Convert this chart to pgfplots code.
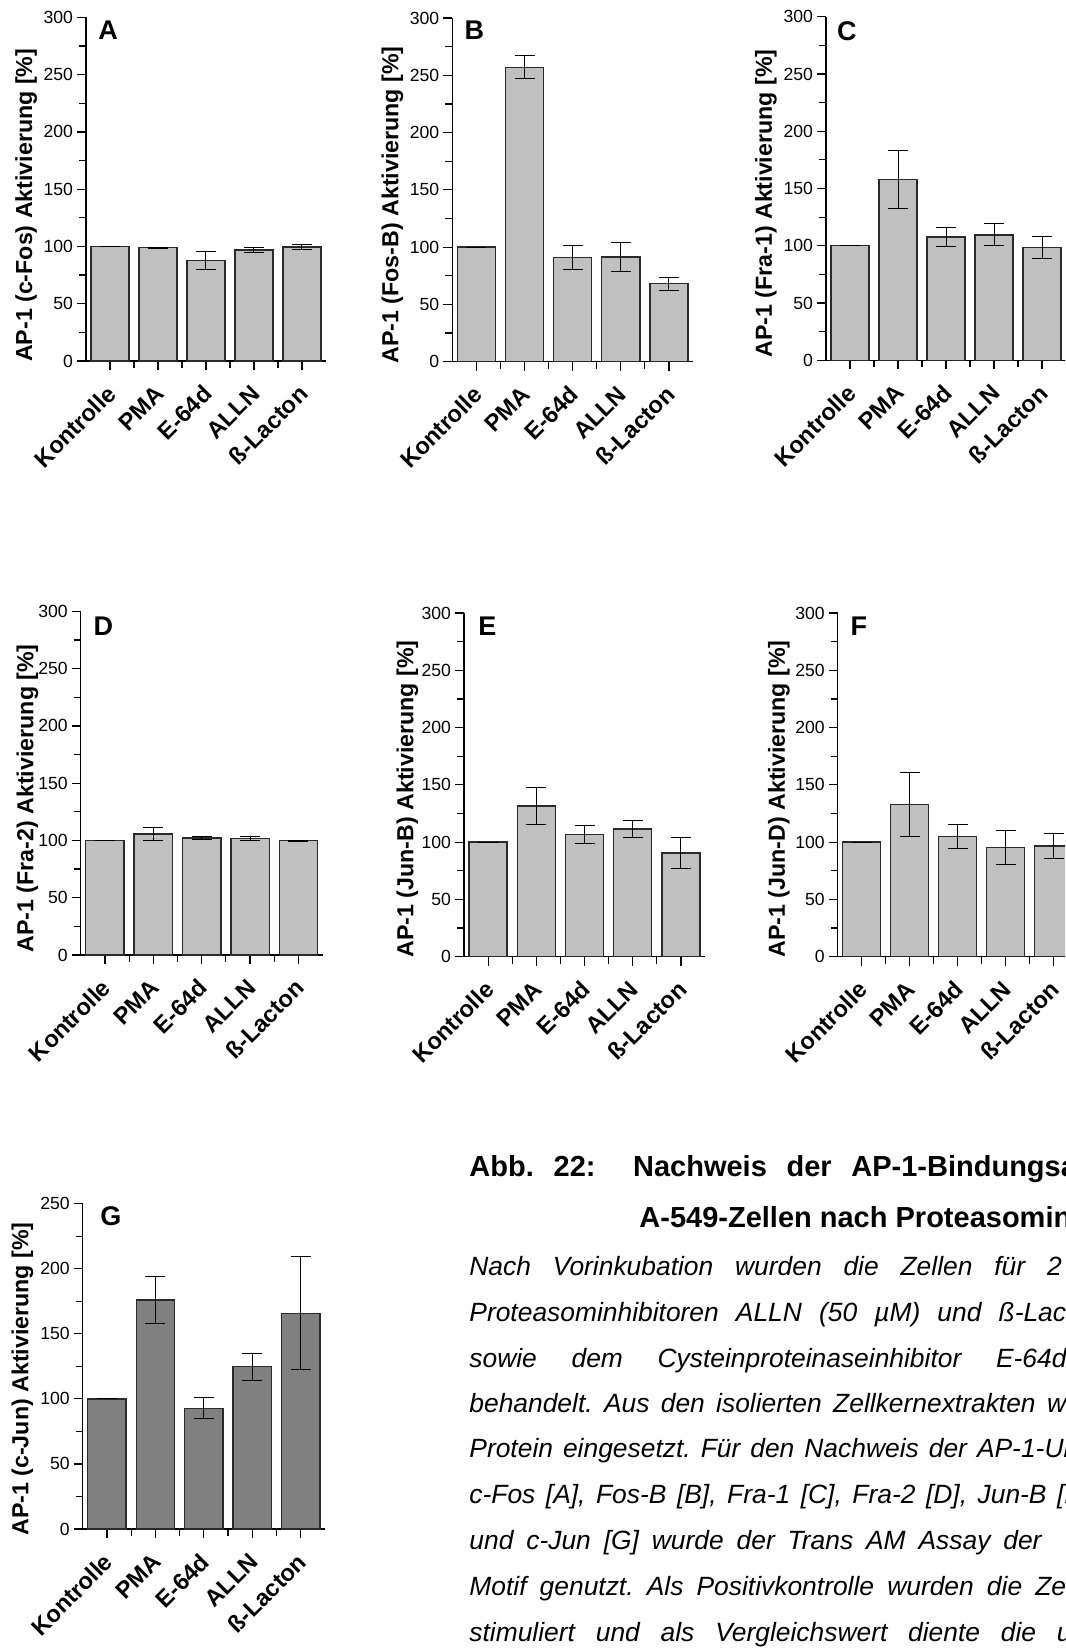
\documentclass[border=0pt]{standalone}
\usepackage{fontspec}
\setmainfont{Liberation Sans}
\usepackage{pgfplots}
\pgfplotsset{compat=1.18}
\definecolor{barlight}{HTML}{C0C0C0}
\definecolor{bardark}{HTML}{808080}
\definecolor{edgecol}{HTML}{2A2A2A}
\tikzset{letter/.style={anchor=base west, inner sep=0pt, font=\bfseries\fontsize{13.5}{16}\selectfont}}
\pgfplotsset{
  panel/.style={
    scale only axis, width=120pt, height=171.8pt,
    xmin=-0.5, xmax=4.5, ymin=0, ymax=300, enlargelimits=false,
    axis lines=left, axis line style={line width=0.75pt, -},
    xtick={0,1,2,3,4}, xticklabels={Kontrolle,PMA,E-64d,ALLN,ß-Lacton},
    minor x tick num=1,
    ytick={0,50,...,300}, minor y tick num=1,
    tick align=outside, major tick length=4.5pt, minor tick length=3.5pt,
    tick style={line width=0.6pt, black},
    /pgf/number format/assume math mode=true,
    yticklabel style={font=\fontsize{8.8}{10}\selectfont, xshift=1.5pt},
    xticklabel style={rotate=45, anchor=east, font=\bfseries\fontsize{11.8}{14}\selectfont, xshift=-3pt, yshift=-7.5pt},
    ylabel style={font=\bfseries\fontsize{11.6}{14}\selectfont, anchor=base},
    clip=false,
  },
  bars/.style={ybar, bar width=0.79, fill=#1, draw=edgecol, line width=0.7pt,
    error bars/.cd, y dir=both, y explicit,
    error bar style={black, line width=0.5pt},
    error mark options={rotate=90, black, mark size=5pt, line width=0.5pt}},
  bars/.default=barlight,
}
\pgfplotstableread{
x y e
0 100 0
1 99 0.4
2 87.5 8
3 97 2.5
4 99.5 1.8
}\tabA
\pgfplotstableread{
x y e
0 100 0
1 257 10
2 91 10.2
3 91.5 12.5
4 68 5.5
}\tabB
\pgfplotstableread{
x y e
0 100 0
1 158 25.5
2 107.5 8
3 109.5 9.5
4 98.5 9.3
}\tabC
\pgfplotstableread{
x y e
0 100 0
1 105.5 5.5
2 102.3 1.2
3 101.7 1.6
4 99.7 0.5
}\tabD
\pgfplotstableread{
x y e
0 100 0
1 131.5 15.9
2 106.8 8
3 111.5 7
4 90.5 13.2
}\tabE
\pgfplotstableread{
x y e
0 100 0
1 133 28
2 105 10.6
3 95.2 14.7
4 96.5 11
}\tabF
\pgfplotstableread{
x y e
0 100 0
1 176 18.2
2 92.7 8
3 124.7 10.2
4 165.7 43.5
}\tabG
\begin{document}
\begin{tikzpicture}
\useasboundingbox (0,0) rectangle (532.5pt,826pt);
\clip (0,0) rectangle (532.5pt,826pt);
\fill[white] (0,0) rectangle (532.5pt,826pt);

% A
\begin{axis}[panel, anchor=south west, at={(43pt,645.5pt)},
  ylabel={AP-1 (c-Fos) Aktivierung [\%]},
  ylabel style={at={(axis description cs:-0.224,0.453)}}]
\addplot[bars] table[x=x,y=y,y error=e] {\tabA};
\node[letter, xshift=6pt, yshift=-11.3pt] at (rel axis cs:0,1) {A};
\end{axis}
% B
\begin{axis}[panel, anchor=south west, at={(226.15pt,645.15pt)}, width=120.35pt,
  ylabel={AP-1 (Fos-B) Aktivierung [\%]},
  ylabel style={at={(axis description cs:-0.224,0.456)}}]
\addplot[bars] table[x=x,y=y,y error=e] {\tabB};
\node[letter, xshift=6pt, yshift=-10.5pt] at (rel axis cs:0,1) {B};
\end{axis}
% C
\begin{axis}[panel, anchor=south west, at={(413pt,645.85pt)},
  ylabel={AP-1 (Fra-1) Aktivierung [\%]},
  ylabel style={at={(axis description cs:-0.226,0.456)}}]
\addplot[bars] table[x=x,y=y,y error=e] {\tabC};
\node[letter, xshift=5.3pt, yshift=-12pt] at (rel axis cs:0,1) {C};
\end{axis}
% D
\begin{axis}[panel, anchor=south west, at={(40.35pt,348.5pt)}, width=121pt,
  ylabel={AP-1 (Fra-2) Aktivierung [\%]},
  ylabel style={at={(axis description cs:-0.196,0.456)}}]
\addplot[bars] table[x=x,y=y,y error=e] {\tabD};
\node[letter, xshift=6.3pt, yshift=-12.3pt] at (rel axis cs:0,1) {D};
\end{axis}
% E
\begin{axis}[panel, anchor=south west, at={(232pt,347.65pt)}, width=120.5pt,
  ylabel={AP-1 (Jun-B) Aktivierung [\%]},
  ylabel style={at={(axis description cs:-0.21,0.459)}}]
\addplot[bars] table[x=x,y=y,y error=e] {\tabE};
\node[letter, xshift=7pt, yshift=-11.2pt] at (rel axis cs:0,1) {E};
\end{axis}
% F
\begin{axis}[panel, anchor=south west, at={(418.85pt,347.65pt)},
  ylabel={AP-1 (Jun-D) Aktivierung [\%]},
  ylabel style={at={(axis description cs:-0.22,0.459)}}]
\addplot[bars] table[x=x,y=y,y error=e] {\tabF};
\node[letter, xshift=6.2pt, yshift=-11.2pt] at (rel axis cs:0,1) {F};
\end{axis}
% G
\begin{axis}[panel, anchor=south west, at={(41.35pt,61.5pt)}, width=121.15pt, height=162.65pt,
  ymax=250, ytick={0,50,...,250},
  ylabel={AP-1 (c-Jun) Aktivierung [\%]},
  ylabel style={at={(axis description cs:-0.224,0.461)}}]
\addplot[bars=bardark] table[x=x,y=y,y error=e] {\tabG};
\node[letter, xshift=8.6pt, yshift=-10.7pt] at (rel axis cs:0,1) {G};
\end{axis}

% caption
\begin{scope}[every node/.style={anchor=base west, inner sep=0pt}]
\node[font=\bfseries\fontsize{14.5}{17}\selectfont] at (234.5pt,237.5pt) {Abb.};
\node[font=\bfseries\fontsize{14.5}{17}\selectfont] at (276.65pt,237.5pt) {22:};
\node[font=\bfseries\fontsize{14.5}{17}\selectfont] at (316.35pt,237.5pt)
  {\frenchspacing\makebox[109.15pt][s]{Nachweis der \rlap{AP-1-Bindungsaktivität}}};
\node[font=\bfseries\fontsize{14.5}{17}\selectfont] at (319.5pt,212pt)
  {A-549-Zellen nach Proteasominhibitor-Behandlung};
\begin{scope}[every node/.append style={font=\itshape\fontsize{13.2}{15}\selectfont}]
\node at (234.5pt,188pt) {\frenchspacing\makebox[288.85pt][s]{Nach Vorinkubation wurden die Zellen für \rlap{2}}};
\node at (234.5pt,165.15pt) {\frenchspacing\makebox[264.65pt][s]{Proteasominhibitoren ALLN (50 µM) und \rlap{ß-Lacton}}};
\node at (234.5pt,142.15pt) {\frenchspacing\makebox[263.35pt][s]{sowie dem Cysteinproteinaseinhibitor \rlap{E-64d}}};
\node at (234.5pt,119.5pt) {\frenchspacing\makebox[288.85pt][s]{behandelt. Aus den isolierten Zellkernextrakten \rlap{wurden}}};
\node at (234.5pt,97pt) {\frenchspacing\makebox[253.85pt][s]{Protein eingesetzt. Für den Nachweis der \rlap{AP-1-Untereinheiten}}};
\node at (234.5pt,74pt) {\frenchspacing\makebox[293.85pt][s]{c-Fos [A], Fos-B [B], Fra-1 [C], Fra-2 [D], Jun-B \rlap{[E],}}};
\node at (234.5pt,51pt) {\frenchspacing\makebox[267pt][s]{und c-Jun [G] wurde der Trans AM Assay \rlap{der}}};
\node at (234.5pt,28pt) {\frenchspacing\makebox[283pt][s]{Motif genutzt. Als Positivkontrolle wurden die \rlap{Zellen}}};
\node at (234.5pt,5.15pt) {\frenchspacing\makebox[293.85pt][s]{stimuliert und als Vergleichswert diente die \rlap{unbehandelte}}};
\end{scope}
\end{scope}
\end{tikzpicture}
\end{document}
